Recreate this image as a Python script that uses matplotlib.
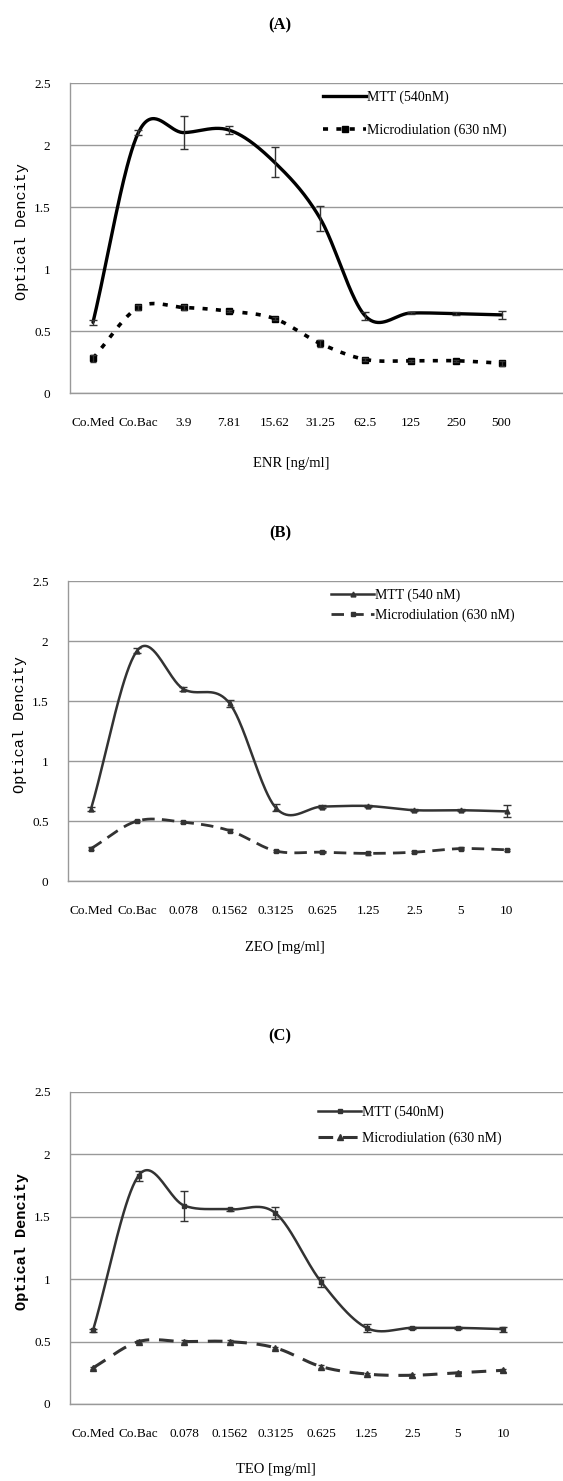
import numpy as np
import matplotlib
matplotlib.use("Agg")
import matplotlib.pyplot as plt
from matplotlib.lines import Line2D

plt.rcParams['font.family'] = ['Liberation Serif', 'DejaVu Serif']

# ---------------- data ----------------
cats_A = ["Co.Med", "Co.Bac", "3.9", "7.81", "15.62", "31.25", "62.5", "125", "250", "500"]
mtt_A = [0.57, 2.10, 2.10, 2.12, 1.86, 1.41, 0.62, 0.645, 0.64, 0.63]
mtt_A_err = [0.02, 0.02, 0.13, 0.03, 0.12, 0.10, 0.03, 0.01, 0.01, 0.03]
mic_A = [0.28, 0.69, 0.69, 0.66, 0.60, 0.40, 0.27, 0.26, 0.26, 0.24]
mic_A_err = [0.03, 0.02, 0.02, 0.01, 0.01, 0.03, 0.01, 0.01, 0.01, 0.02]

cats_B = ["Co.Med", "Co.Bac", "0.078", "0.1562", "0.3125", "0.625", "1.25", "2.5", "5", "10"]
mtt_B = [0.60, 1.92, 1.60, 1.48, 0.61, 0.62, 0.625, 0.59, 0.59, 0.58]
mtt_B_err = [0.02, 0.02, 0.02, 0.03, 0.03, 0.01, 0.01, 0.01, 0.01, 0.05]
mic_B = [0.27, 0.50, 0.49, 0.42, 0.25, 0.24, 0.23, 0.24, 0.27, 0.26]
mic_B_err = [0.01, 0.01, 0.01, 0.01, 0.01, 0.01, 0.01, 0.01, 0.01, 0.01]

cats_C = ["Co.Med", "Co.Bac", "0.078", "0.1562", "0.3125", "0.625", "1.25", "2.5", "5", "10"]
mtt_C = [0.59, 1.83, 1.59, 1.56, 1.53, 0.98, 0.61, 0.61, 0.61, 0.60]
mtt_C_err = [0.01, 0.04, 0.12, 0.01, 0.05, 0.04, 0.03, 0.01, 0.01, 0.02]
mic_C = [0.29, 0.50, 0.50, 0.50, 0.45, 0.30, 0.24, 0.23, 0.25, 0.27]
mic_C_err = [0.01, 0.01, 0.01, 0.01, 0.01, 0.01, 0.01, 0.01, 0.01, 0.01]

xlabels = ["ENR [ng/ml]", "ZEO [mg/ml]", "TEO [mg/ml]"]
titles = ["(A)", "(B)", "(C)"]
leg_mtt = ["MTT (540nM)", "MTT (540 nM)", "MTT (540nM)"]
leg_mic = ["Microdiulation (630 nM)", "Microdiulation (630 nM)", "Microdiulation (630 nM)"]
yticks = [0, 0.5, 1, 1.5, 2, 2.5]
ytick_labels = ["0", "0.5", "1", "1.5", "2", "2.5"]


def smooth(y, n=40):
    """Catmull-Rom smoothing (like Excel's smoothed line)."""
    y = np.asarray(y, float)
    x = np.arange(len(y), dtype=float)
    xs, ys = [], []
    for i in range(len(y) - 1):
        y0 = y[i - 1] if i > 0 else y[i]
        y3 = y[i + 2] if i + 2 < len(y) else y[i + 1]
        m0 = (y[i + 1] - y0) / (2 if i > 0 else 1)
        m1 = (y3 - y[i]) / (2 if i + 2 < len(y) else 1)
        t = np.linspace(0, 1, n, endpoint=False)
        h00 = 2 * t**3 - 3 * t**2 + 1
        h10 = t**3 - 2 * t**2 + t
        h01 = -2 * t**3 + 3 * t**2
        h11 = t**3 - t**2
        xs.append(x[i] + t)
        ys.append(h00 * y[i] + h10 * m0 + h01 * y[i + 1] + h11 * m1)
    xs.append([x[-1]])
    ys.append([y[-1]])
    return np.concatenate(xs), np.concatenate(ys)


W, H = 563, 1481
fig = plt.figure(figsize=(W / 100, H / 100), dpi=100)

# pixel geometry: (left, top, bottom, first category px, spacing px)
geo = [(70, 83, 393, 93, 45.4), (68, 581, 881, 91, 46.2), (70, 1092, 1404, 93, 45.6)]
title_y = [25, 533, 1036]
xlabel_pos = [(291, 463), (285, 948), (276, 1470)]
ylabel_x = [22, 20, 22]
legend_pos = [(323, 91), (331, 589), (318, 1106)]
legend_spacing = [1.35, 0.45, 0.85]

styles = [
    dict(mtt_color='black', mtt_lw=2.4, mtt_marker=None, mtt_ms=0,
         mic_color='black', mic_lw=2.6, mic_ls=(0, (1.4, 2.3)), mic_marker='s', mic_ms=4.5,
         err_color='#333333'),
    dict(mtt_color='#333333', mtt_lw=1.8, mtt_marker='^', mtt_ms=3.5,
         mic_color='#333333', mic_lw=2.0, mic_ls=(0, (4.5, 2.6)), mic_marker='s', mic_ms=3,
         err_color='#333333'),
    dict(mtt_color='#333333', mtt_lw=1.8, mtt_marker='s', mtt_ms=3.5,
         mic_color='#333333', mic_lw=2.2, mic_ls=(0, (4.8, 3.2)), mic_marker='^', mic_ms=4.5,
         err_color='#333333'),
]

panels = [(cats_A, mtt_A, mtt_A_err, mic_A, mic_A_err),
          (cats_B, mtt_B, mtt_B_err, mic_B, mic_B_err),
          (cats_C, mtt_C, mtt_C_err, mic_C, mic_C_err)]

for k, (cats, mtt, mtt_err, mic, mic_err) in enumerate(panels):
    left, top, bot, c0, sp = geo[k]
    st = styles[k]
    ax = fig.add_axes([left / W, 1 - bot / H, (W - left) / W, (bot - top) / H])
    x = np.arange(len(cats))
    xmin = -(c0 - left) / sp
    xmax = (W - c0) / sp
    ax.set_xlim(xmin, xmax)
    ax.set_ylim(0, 2.5)

    # grid
    ax.set_yticks(yticks)
    ax.set_yticklabels(ytick_labels, fontsize=9.5)
    ax.yaxis.grid(True, color='#999999', lw=1.0)
    ax.set_axisbelow(True)
    for s in ['top', 'right']:
        ax.spines[s].set_visible(False)
    for s in ['left', 'bottom']:
        ax.spines[s].set_color('#999999')
        ax.spines[s].set_linewidth(1.0)
    ax.tick_params(axis='y', length=0, pad=14)
    ax.set_xticks(x)
    ax.set_xticklabels(cats, fontsize=9.5)
    ax.tick_params(axis='x', length=0, pad=17)

    # MTT
    xs, ys = smooth(mtt)
    ax.plot(xs, ys, color=st['mtt_color'], lw=st['mtt_lw'], solid_capstyle='round', zorder=3)
    if st['mtt_marker']:
        ax.plot(x, mtt, ls='none', marker=st['mtt_marker'], ms=st['mtt_ms'],
                color=st['mtt_color'], zorder=4)
    ax.errorbar(x, mtt, yerr=mtt_err, fmt='none', ecolor=st['err_color'],
                elinewidth=1.0, capsize=3, capthick=1.0, zorder=5)

    # Microdilution
    xs, ys = smooth(mic)
    ax.plot(xs, ys, color=st['mic_color'], lw=st['mic_lw'], ls=st['mic_ls'], zorder=3)
    ax.plot(x, mic, ls='none', marker=st['mic_marker'], ms=st['mic_ms'],
            color=st['mic_color'], zorder=4)
    ax.errorbar(x, mic, yerr=mic_err, fmt='none', ecolor=st['err_color'],
                elinewidth=1.0, capsize=2.5, capthick=1.0, zorder=5)

    # labels
    xlx, xly = xlabel_pos[k]
    fig.text(xlx / W, 1 - xly / H, xlabels[k], ha='center', va='center', fontsize=10.5)
    fig.text(ylabel_x[k] / W, 1 - ((top + bot) / 2 - 6) / H, "Optical Dencity",
             ha='center', va='center', rotation=90, fontsize=11,
             family=['Liberation Mono', 'DejaVu Sans Mono'],
             fontweight='bold' if k == 2 else 'normal')
    fig.text(280 / W, 1 - title_y[k] / H, titles[k], ha='center', va='center',
             fontsize=12, fontweight='bold')

    # legend
    h_mtt = Line2D([], [], color=st['mtt_color'], lw=st['mtt_lw'],
                   marker=st['mtt_marker'] if st['mtt_marker'] else None, ms=st['mtt_ms'])
    h_mic = Line2D([], [], color=st['mic_color'], lw=st['mic_lw'], ls=st['mic_ls'],
                   marker=st['mic_marker'], ms=st['mic_ms'])
    lx, ly = legend_pos[k]
    ax.legend([h_mtt, h_mic], [leg_mtt[k], leg_mic[k]], loc='upper left',
              bbox_to_anchor=(lx / W, 1 - ly / H), bbox_transform=fig.transFigure,
              frameon=False, fontsize=10, handlelength=3.1, handletextpad=0.1,
              borderpad=0, borderaxespad=0, labelspacing=legend_spacing[k],
              markerfirst=True)

fig.savefig("out.png", dpi=100)
